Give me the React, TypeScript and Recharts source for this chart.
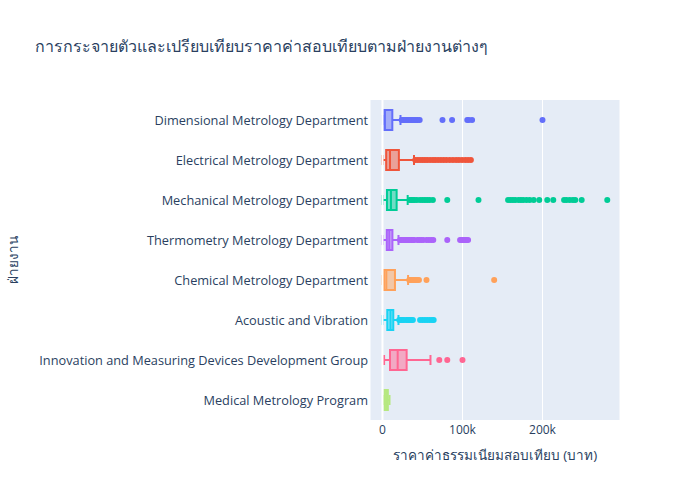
import { Bar, CartesianGrid, ComposedChart, ReferenceLine, Scatter, XAxis, YAxis } from "recharts";

const FONT = '"Open Sans", verdana, arial, sans-serif';
const TEXT_COLOR = "#2a3f5f";

const departments = [
  "Dimensional Metrology Department",
  "Electrical Metrology Department",
  "Mechanical Metrology Department",
  "Thermometry Metrology Department",
  "Chemical Metrology Department",
  "Acoustic and Vibration",
  "Innovation and Measuring Devices Development Group",
  "Medical Metrology Program",
];

const colors = ["#636efa", "#EF553B", "#00cc96", "#ab63fa", "#FFA15A", "#19d3f3", "#FF6692", "#B6E880"];

const lowerFence = [500, 0, 0, 0, 0, 0, 2000, 1300];
const q1 = [2300, 4600, 5600, 5400, 2000, 6000, 9400, 2500];
const median = [3000, 9400, 10600, 8500, 4800, 10000, 19000, 4500];
const q3 = [12300, 20500, 17700, 12400, 15600, 13500, 30200, 6700];
const upperFence = [22500, 39400, 31500, 20000, 32000, 20000, 60000, 8800];

const outliers: number[][] = [
  [24000, 26000, 28000, 30000, 32000, 34000, 36000, 38000, 40000, 42000, 44000, 46500, 75000, 87000, 106000, 108000, 112000, 200000],
  [41000, 44000, 47000, 50000, 53000, 56000, 59500, 63000, 66000, 69500, 73000, 76500, 80000, 84000, 88000, 92000, 95500, 99500, 103500, 107000, 110500],
  [34000, 36000, 38000, 40000, 43000, 47000, 50000, 53000, 56000, 59000, 63000, 81000, 120000, 157000, 160000, 163000, 166000, 170000, 173000, 176000, 180000, 184000, 189000, 196000, 206000, 213500, 227000, 230000, 234000, 238000, 241000, 249000, 281000],
  [22000, 24000, 26000, 28000, 30000, 32000, 34000, 36000, 38000, 39500, 43500, 46000, 48500, 51000, 55000, 58000, 61000, 63500, 81000, 97000, 99000, 101000, 103000, 105000, 107000],
  [33500, 35000, 37000, 39000, 41000, 43000, 45600, 55000, 139600],
  [21000, 23000, 25000, 27000, 30000, 32000, 34000, 36000, 38000, 47000, 50000, 53000, 56000, 59000, 62000, 64000],
  [71000, 81000, 100000],
  [],
];

const xTicks = [0, 100000, 200000];
const xDomain = [-15600, 296900];

const boxRows = departments.map((dept, i) => ({
  dept,
  lo: lowerFence[i],
  q1: q1[i],
  med: median[i],
  q3: q3[i],
  hi: upperFence[i],
  color: colors[i],
}));

const outlierPoints = departments.flatMap((dept, i) =>
  outliers[i].map((value) => ({ dept, value, color: colors[i] }))
);

function BoxShape(props: any) {
  const { x, y, width, height, payload } = props;
  const { lo, hi, color } = payload;
  // map values with the bar's own [lo, hi] geometry
  const px = (v: number) => x + ((v - lo) / (hi - lo)) * width;
  const cy = y + height / 2;
  const cap = height / 4;
  return (
    <g>
      <line x1={px(lo)} x2={px(payload.q1)} y1={cy} y2={cy} stroke={color} strokeWidth={2} />
      <line x1={px(payload.q3)} x2={px(hi)} y1={cy} y2={cy} stroke={color} strokeWidth={2} />
      <line x1={px(lo)} x2={px(lo)} y1={cy - cap} y2={cy + cap} stroke={color} strokeWidth={2} />
      <line x1={px(hi)} x2={px(hi)} y1={cy - cap} y2={cy + cap} stroke={color} strokeWidth={2} />
      <rect
        x={px(payload.q1)}
        y={y}
        width={px(payload.q3) - px(payload.q1)}
        height={height}
        fill={color}
        fillOpacity={0.5}
        stroke={color}
        strokeWidth={2}
      />
      <line x1={px(payload.med)} x2={px(payload.med)} y1={y} y2={y + height} stroke={color} strokeWidth={2} />
    </g>
  );
}

function OutlierDot(props: any) {
  const { cx, cy, payload } = props;
  if (cx == null || cy == null) return null;
  return <circle cx={cx} cy={cy} r={3} fill={payload.color} />;
}

export default function App() {
  return (
    <div style={{ position: "absolute", left: 0, top: 0, width: 700, height: 500, background: "#fff" }}>
      <ComposedChart
        width={700}
        height={500}
        data={boxRows}
        layout="vertical"
        margin={{ top: 100, right: 80, bottom: 50, left: 0 }}
      >
        <CartesianGrid horizontal={false} stroke="#ffffff" fill="#E5ECF6" />
        <XAxis
          type="number"
          dataKey="value"
          domain={xDomain}
          ticks={xTicks}
          allowDataOverflow
          height={30}
          axisLine={false}
          tickLine={false}
          tickSize={0}
          tickMargin={5}
          tickFormatter={(v: number) => (v === 0 ? "0" : `${v / 1000}k`)}
          tick={{ fill: TEXT_COLOR, fontSize: 12, fontFamily: FONT }}
        />
        <YAxis
          type="category"
          dataKey="dept"
          allowDuplicatedCategory={false}
          width={370}
          axisLine={false}
          tickLine={false}
          tickSize={0}
          tickMargin={2}
          tick={{ fill: TEXT_COLOR, fontSize: 12.75, fontFamily: FONT }}
        />
        <ReferenceLine x={0} stroke="#ffffff" strokeWidth={2} />
        <Bar
          dataKey={(d: any) => [d.lo, d.hi]}
          barSize={20}
          shape={BoxShape}
          isAnimationActive={false}
        />
        <Scatter data={outlierPoints} dataKey="value" shape={OutlierDot} isAnimationActive={false} />
      </ComposedChart>
      <svg
        width={700}
        height={500}
        style={{ position: "absolute", left: 0, top: 0, pointerEvents: "none" }}
      >
        <text x={35} y={52} fontSize={16} fill={TEXT_COLOR} fontFamily={FONT}>
          การกระจายตัวและเปรียบเทียบราคาค่าสอบเทียบตามฝ่ายงานต่างๆ
        </text>
        <text x={495} y={460} fontSize={13.5} fill={TEXT_COLOR} fontFamily={FONT} textAnchor="middle">
          ราคาค่าธรรมเนียมสอบเทียบ (บาท)
        </text>
        <text
          x={18}
          y={260}
          fontSize={13.5}
          fill={TEXT_COLOR}
          fontFamily={FONT}
          textAnchor="middle"
          transform="rotate(-90 18 260)"
        >
          ฝ่ายงาน
        </text>
      </svg>
    </div>
  );
}
